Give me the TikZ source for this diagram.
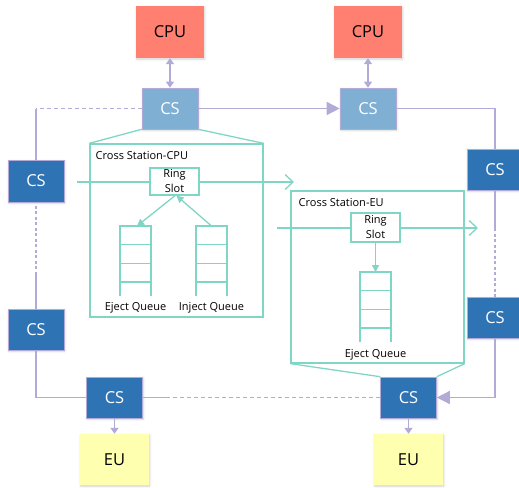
\documentclass[tikz,border=0pt]{standalone}
\usepackage{fontspec}
\setmainfont{Open Sans}
\usetikzlibrary{arrows.meta,shadows.blur}

\definecolor{ringc}{RGB}{178,170,215}
\definecolor{tealc}{RGB}{128,214,196}
\definecolor{csdark}{RGB}{46,116,181}
\definecolor{cslight}{RGB}{127,176,212}
\definecolor{cpuc}{RGB}{255,128,112}
\definecolor{euc}{RGB}{255,255,176}

\tikzset{
  boxshadow/.style={blur shadow={shadow blur steps=6,shadow xshift=0.8pt,shadow yshift=-1.2pt,shadow opacity=18}},
  bigtext/.style={font=\fontsize{16.5}{19}\selectfont},
  smalltext/.style={font=\fontsize{11}{14}\selectfont},
  cpubox/.style={rectangle,fill=cpuc,minimum width=68pt,minimum height=52pt,bigtext,boxshadow},
  eubox/.style={rectangle,fill=euc,minimum width=69pt,minimum height=51pt,bigtext,boxshadow},
  csbox/.style={rectangle,draw=ringc,line width=0.6pt,minimum width=56pt,minimum height=41pt,bigtext,text=white,boxshadow},
  csdarkbox/.style={csbox,fill=csdark},
  cslightbox/.style={csbox,fill=cslight},
  ringline/.style={draw=ringc,line width=1.5pt},
  ringdash/.style={ringline,dash pattern=on 4pt off 3pt},
  ringdot/.style={ringline,dash pattern=on 3pt off 2.5pt},
  bigtip/.style={-{Triangle[length=13pt,width=13pt]}},
  smalltip/.style={-{Triangle[length=6pt,width=8pt]}},
  tealline/.style={draw=tealc,line width=1.3pt},
  chevron/.style={-{Straight Barb[length=8pt,width=15pt,line width=1.3pt]}},
  tealtip/.style={-{Triangle[length=7pt,width=7pt]}},
  stationbox/.style={rectangle,draw=tealc,line width=1.3pt,fill=white},
  slotbox/.style={rectangle,draw=tealc,line width=1.3pt,fill=white,minimum width=49pt,inner sep=0pt,align=center,font=\fontsize{11}{15}\selectfont},
  queue/.pic={
    \draw[tealline] (0,70) -- (0,0) -- (31,0) -- (31,70);
    \draw[tealline] (0,18.7) -- (31,18.7) (0,37.3) -- (31,37.3) (0,56) -- (31,56);
    \coordinate (-top) at (15.5,0);
    \coordinate (-in) at (17,0);
  }
}

\begin{document}
\begin{tikzpicture}[x=1pt,y=-1pt]
\useasboundingbox (0,0) rectangle (519,487);
\clip (0,0) rectangle (519,487);

% cross station detail frames (drawn first, behind everything)
\node[stationbox,minimum width=173pt,minimum height=173pt] (xcpu) at (176.5,230.5) {};
\node[stationbox,minimum width=173pt,minimum height=172pt] (xeu) at (377.5,277) {};

% processors and execution units
\node[cpubox] (cpu1) at (170,32) {CPU};
\node[cpubox] (cpu2) at (368,32) {CPU};
\node[eubox] (eu1) at (114.5,459.5) {EU};
\node[eubox] (eu2) at (408.5,459.5) {EU};

% ring stations
\node[cslightbox] (cst1) at (170,108.5) {CS};
\node[cslightbox] (cst2) at (368,108.5) {CS};
\node[csdarkbox,minimum height=42pt] (lcs1) at (36,181) {CS};
\node[csdarkbox] (lcs2) at (36,329.5) {CS};
\node[csdarkbox] (rcs1) at (495,169.5) {CS};
\node[csdarkbox] (rcs2) at (495,317.5) {CS};
\node[csdarkbox] (bcs1) at (114.5,397.5) {CS};
\node[csdarkbox] (bcs2) at (408.5,397.5) {CS};

% ring connections
\draw[ringline,{Triangle[length=6pt,width=8pt]}-{Triangle[length=6pt,width=8pt]}] (cpu1) -- (cst1);
\draw[ringline,{Triangle[length=6pt,width=8pt]}-{Triangle[length=6pt,width=8pt]}] (cpu2) -- (cst2);
\draw[ringdash] (cst1.west) -- (cst1.west -| lcs1);
\draw[ringline] (cst1.west -| lcs1) -- (lcs1.north);
\draw[ringline,bigtip] (cst1.east) -- (cst2.west);
\draw[ringline] (cst2.east) -| (rcs1.north);
\draw[ringline] (rcs1.south) -- ([yshift=-38pt]rcs1.south);
\draw[ringdot] ([yshift=-38pt]rcs1.south) -- (rcs2.north);
\draw[ringline,bigtip] (rcs2.south) |- (bcs2.east);
\draw[ringdash] (bcs2.west) -- ([xshift=25pt]bcs1.east);
\draw[ringline] ([xshift=25pt]bcs1.east) -- (bcs1.east);
\draw[ringline] (bcs1.west) -| (lcs2.south);
\draw[ringline] (lcs2.north) -- ([yshift=34pt]lcs2.north);
\draw[ringdot] ([yshift=34pt]lcs2.north) -- (lcs1.south);
\draw[ringline,smalltip] (bcs1) -- (eu1);
\draw[ringline,smalltip] (bcs2) -- (eu2);

% frames fanning out of their stations
\draw[tealline] (cst1.south west) -- (xcpu.north west);
\draw[tealline] (cst1.south east) -- (xcpu.north east);
\draw[tealline] (xeu.south west) -- (bcs2.north west);
\draw[tealline] (xeu.south east) -- (bcs2.north east);

% Cross Station-CPU internals
\node[smalltext,anchor=base west,inner sep=0pt] at (95.5,159) {Cross Station-CPU};
\coordinate (h1s) at (77,182);
\coordinate (h1e) at (294,182);
\draw[tealline,chevron] (h1s) -- (h1e);
\node[slotbox,minimum height=27pt] (rs1) at (174.5,181.5) {Ring\\Slot};
\pic (eq1) at (120,226) {queue};
\pic (iq1) at (196,226) {queue};
\draw[tealline,tealtip] ([xshift=0.5pt]rs1.south) -- (eq1-in);
\draw[tealline,tealtip] (iq1-top) -- ([xshift=2pt]rs1.south);
\node[smalltext,anchor=base,inner sep=0pt] at (135.5,310) {Eject Queue};
\node[smalltext,anchor=base,inner sep=0pt] at (211.5,310) {Inject Queue};

% Cross Station-EU internals
\node[smalltext,anchor=base west,inner sep=0pt] at (298.5,206) {Cross Station-EU};
\coordinate (h2s) at (277,228);
\coordinate (h2e) at (478,228);
\draw[tealline,chevron] (h2s) -- (h2e);
\node[slotbox,minimum height=29pt] (rs2) at (375.5,227.5) {Ring\\Slot};
\pic (eq2) at (360,272) {queue};
\draw[tealline,tealtip] (rs2.south) -- (eq2-top);
\node[smalltext,anchor=base,inner sep=0pt] at (375.5,357) {Eject Queue};
\end{tikzpicture}
\end{document}
